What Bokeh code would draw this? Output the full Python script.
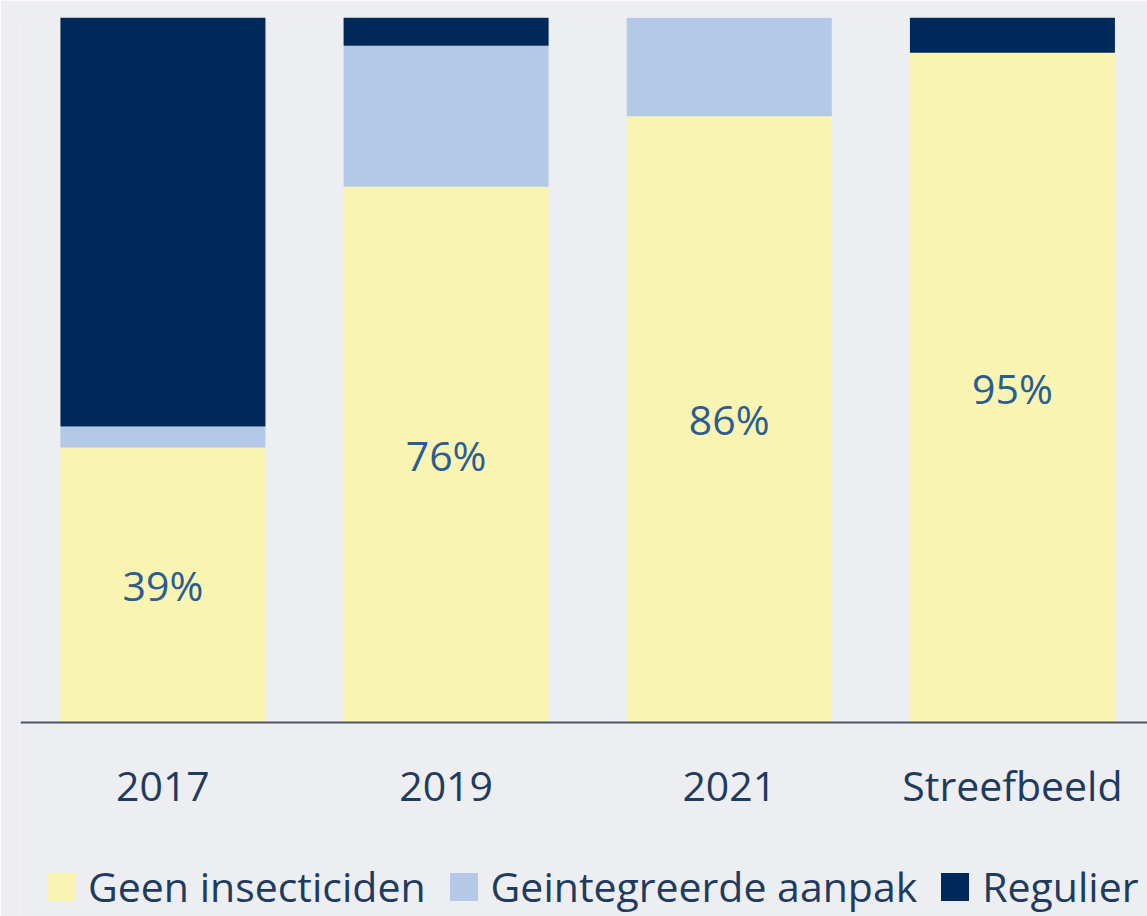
from bokeh.plotting import figure
from bokeh.models import ColumnDataSource, Range1d, Legend, LegendItem, FixedTicker
from bokeh.core.properties import value
from bokeh.embed import file_html
from bokeh.resources import INLINE

categories = ["2017", "2019", "2021", "Streefbeeld"]
geen = [39, 76, 86, 95]
geintegreerd = [3, 20, 14, 0]
regulier = [58, 4, 0, 5]
series_names = ["Geen insecticiden", "Geintegreerde aanpak", "Regulier"]
colors = ["#FAF4B2", "#B4C8E8", "#00295A"]

BG = "#EDEEF2"
FONT = "Open Sans"

xs = list(range(len(categories)))
src = ColumnDataSource(dict(x=xs, geen=geen, geint=geintegreerd, reg=regulier,
                            lbl=[f"{v}%" for v in geen], ly=[v / 2 for v in geen]))

# frame spans the full height below the top border; the area under y=0 holds the labels and legend
p = figure(width=1147, height=916, output_backend="svg", toolbar_location=None,
           x_range=Range1d(-0.503, 3.477), y_range=Range1d(-27.52, 100),
           min_border_left=20, min_border_right=0, min_border_top=17, min_border_bottom=0)
p.background_fill_color = BG
p.border_fill_color = BG
p.outline_line_color = None
p.grid.visible = False
p.yaxis.visible = False

rs = p.vbar_stack(["geen", "geint", "reg"], x="x", width=0.724, source=src,
                  color=colors, line_color=None)

p.text(x="x", y="ly", text="lbl", source=src, text_align="center", text_baseline="middle",
       text_font=value(FONT), text_font_size="41px", text_color="#2C5D92")

ax = p.xaxis[0]
ax.fixed_location = 0
ax.ticker = FixedTicker(ticks=xs)
ax.major_label_overrides = {i: c for i, c in enumerate(categories)}
ax.major_tick_line_color = None
ax.minor_tick_line_color = None
ax.axis_line_color = "#4D5565"
ax.axis_line_width = 2
ax.major_label_text_font = FONT
ax.major_label_text_font_size = "41px"
ax.major_label_text_color = "#1F3B5E"
ax.major_label_standoff = 29

legend = Legend(items=[LegendItem(label=series_names[i], renderers=[rs[i]]) for i in range(3)],
                orientation="horizontal", location=(23, 2))
legend.background_fill_alpha = 0
legend.border_line_color = None
legend.label_text_font = FONT
legend.label_text_font_size = "41px"
legend.label_text_color = "#1F3B5E"
legend.glyph_width = 35
legend.glyph_height = 35
legend.label_standoff = 10
legend.spacing = 20
legend.padding = 0
legend.margin = 0
p.add_layout(legend, "center")

open("out.html", "w").write(file_html(p, INLINE))
